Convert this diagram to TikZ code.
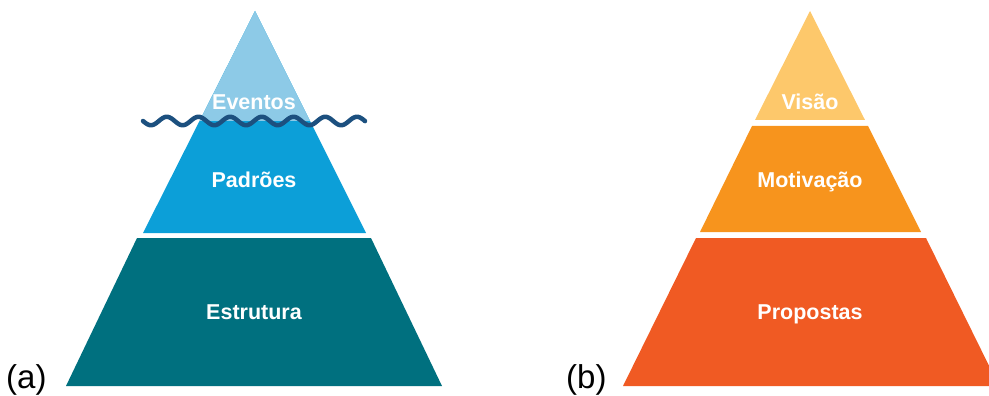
\documentclass[tikz,border=0pt]{standalone}
\usepackage{fontspec}
\setmainfont{Liberation Sans}
\definecolor{iceLight}{HTML}{8DCAE7}
\definecolor{iceMid}{HTML}{0C9FD8}
\definecolor{iceDeep}{HTML}{00707F}
\definecolor{waveBlue}{HTML}{1C507F}
\definecolor{orLight}{HTML}{FDC86B}
\definecolor{orMid}{HTML}{F7941D}
\definecolor{orDeep}{HTML}{F05A23}
\tikzset{
  band/.style={draw=none},
  layerlabel/.style={text=white, font=\fontsize{21.5}{24}\selectfont\bfseries, inner sep=0pt, anchor=base},
  panellabel/.style={text=black, font=\fontsize{33}{36}\selectfont, inner sep=0pt, anchor=base west},
  wave/.style={draw=waveBlue, line width=4.5pt, line cap=round, line join=round}
}
\begin{document}
\begin{tikzpicture}[x=1pt,y=-1pt]
\useasboundingbox (0,0) rectangle (989,396);

% ---- (a) iceberg pyramid ----
\fill[band, iceMid] (255,11) -- (366,233) -- (143,233) -- cycle;
\begin{scope}
  \clip (0,0) rectangle (500,121);
  \fill[band, iceLight] (255,11) -- (366,233) -- (143,233) -- cycle;
\end{scope}
\fill[band, iceDeep] (137,238) -- (371,238) -- (442,386) -- (66,386) -- cycle;
% water line: seven ripples across the berg
\draw[wave] plot[domain=0:222, samples=240] ({\x+143}, {121 + 4.2*sin(\x/31.7*360)});

\node[layerlabel] (eventos) at (254,110) {Eventos};
\node[layerlabel] (padroes) at (254,187) {Padrões};
\node[layerlabel] (estrutura) at (254,319) {Estrutura};
\node[panellabel] (labela) at (6,388) {(a)};

% ---- (b) vision pyramid ----
\fill[band, orLight] (810,11) -- (865,120) -- (755,120) -- cycle;
\fill[band, orMid] (752,126) -- (868,126) -- (921,232) -- (700,232) -- cycle;
\fill[band, orDeep] (696,238) -- (926,238) -- (999,386) -- (623,386) -- cycle;

\node[layerlabel] (visao) at (810,110) {Visão};
\node[layerlabel] (motivacao) at (810,187) {Motivação};
\node[layerlabel] (propostas) at (810,319) {Propostas};
\node[panellabel] (labelb) at (566,388) {(b)};
\end{tikzpicture}
\end{document}
